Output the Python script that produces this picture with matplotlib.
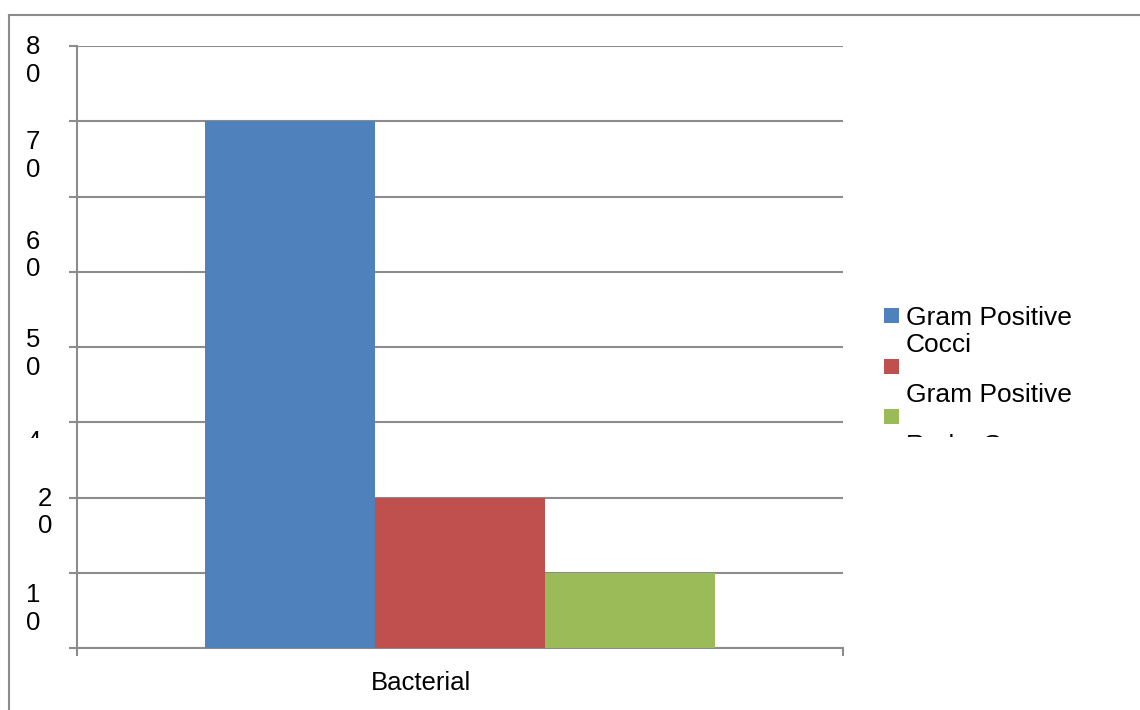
import matplotlib
matplotlib.use("Agg")
import matplotlib.pyplot as plt
from matplotlib.lines import Line2D
from matplotlib.patches import Rectangle
from matplotlib.transforms import Bbox

# ---- data ----
category = "Bacterial"
series_names = ["Gram Positive Cocci", "Gram Positive", "Rods Gram Negative"]
values = [70, 20, 10]
colors = ["#4F81BD", "#C0504D", "#9BBB59"]

y_ticks = [0, 10, 20, 30, 40, 50, 60, 70, 80]
# value labels as they are printed next to the axis (digits stacked)
y_label_values = [80, 70, 60, 50, 40, 20, 10]

W, H = 1140, 710
plt.rcParams["font.family"] = ["Liberation Sans", "DejaVu Sans"]
fig = plt.figure(figsize=(W / 100, H / 100), dpi=100)

GRID = "#8C8C8C"


def fx(px):
    return px / W


def fy(py):
    return 1 - py / H


# outer frame (top and left edges)
fig.add_artist(Line2D([fx(9), fx(9)], [0, fy(15)], color=GRID, lw=1.5,
                      transform=fig.transFigure))
fig.add_artist(Line2D([fx(9), 1], [fy(15), fy(15)], color=GRID, lw=1.5,
                      transform=fig.transFigure))

ax = fig.add_axes([fx(77), fy(648), fx(843) - fx(77), fy(46) - fy(648)])

n = len(values)
bar_w = 0.222
offsets = [(i - (n - 1) / 2) * bar_w for i in range(n)]
for off, v, c in zip(offsets, values, colors):
    ax.bar(off, v, width=bar_w, color=c, edgecolor="none", zorder=3)

ax.set_xlim(-0.5, 0.5)
ax.set_ylim(0, 80)
ax.set_yticks(y_ticks)
ax.set_yticklabels([])
ax.yaxis.grid(True, color=GRID, lw=1.5, zorder=0)
ax.set_axisbelow(True)
ax.tick_params(axis="y", direction="out", length=5.8, width=1.5, color=GRID)

ax.set_xticks([0])
ax.set_xticklabels([])
ax.tick_params(axis="x", which="major", length=0)
ax.set_xticks([-0.5, 0.5], minor=True)
ax.tick_params(axis="x", which="minor", direction="out", length=5.8,
               width=1.5, color=GRID)

for side in ("top", "right"):
    ax.spines[side].set_visible(False)
for side in ("left", "bottom"):
    ax.spines[side].set_color(GRID)
    ax.spines[side].set_linewidth(1.5)

# category label
ax.annotate(category, xy=(0, 0), xycoords=("data", "axes fraction"),
            xytext=(-39, -35), textcoords="offset pixels",
            ha="center", va="center", fontsize=18.5)

# stacked y value labels
label_dx = {80: -51, 70: -51, 60: -51, 50: -51, 40: -51, 20: -39, 10: -51}
label_dy = {80: -15, 70: -35, 60: -59, 50: -82, 40: -109, 20: -15, 10: -36}
clip = Bbox([[0, H - 438], [W, H]])
for v in y_label_values:
    s = str(v)
    t = ax.annotate("\n".join(s), xy=(0, v), xycoords=("axes fraction", "data"),
                    xytext=(label_dx[v], label_dy[v]), textcoords="offset pixels",
                    ha="left", va="center", fontsize=18.5, linespacing=1.2,
                    annotation_clip=False)
    if v == 40:
        t.set_clip_box(clip)
        t.set_clip_on(True)

# legend
leg_lines = [["Gram Positive", "Cocci"], ["", "Gram Positive"], ["", "Rods  Gram"]]
leg_clip = Bbox([[0, H - 437], [W, H]])
for i, (lines, c) in enumerate(zip(leg_lines, colors)):
    top = 308 + i * 50.5
    fig.add_artist(Rectangle((fx(884), fy(top + 15)), fx(15), fy(top) - fy(top + 15),
                             transform=fig.transFigure, facecolor=c,
                             edgecolor="none"))
    base = top + 17.5
    for j, line in enumerate(lines):
        if not line:
            continue
        t = fig.text(fx(906), fy(base + j * 26.5), line, ha="left",
                     va="baseline", fontsize=19)
        t.set_clip_box(leg_clip)
        t.set_clip_on(True)

fig.savefig("out.png", dpi=100)
